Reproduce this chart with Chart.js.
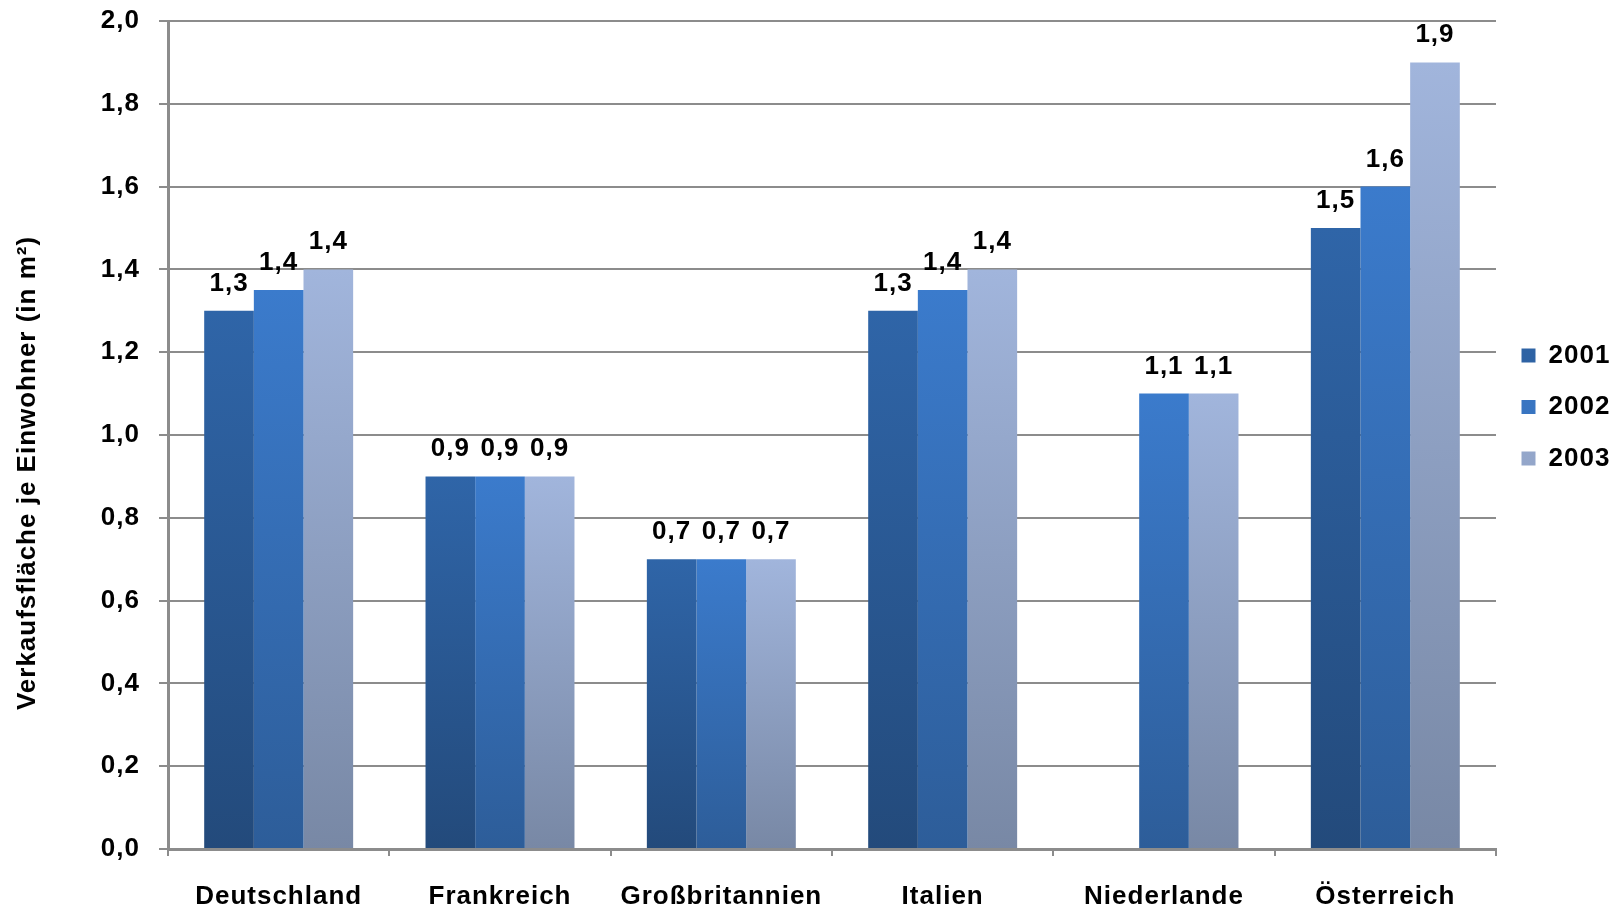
<!DOCTYPE html>
<html>
<head>
<meta charset="utf-8">
<title>Verkaufsfläche je Einwohner</title>
<script src="https://cdn.jsdelivr.net/npm/chart.js@4.4.1/dist/chart.umd.min.js"></script>
<style>
  html, body { margin: 0; padding: 0; background: #ffffff; }
  canvas { display: block; }
</style>
</head>
<body>
<canvas id="chart" width="1614" height="909"></canvas>
<script>
// Verkaufsfläche je Einwohner (in m²), 2001–2003
const countries = ['Deutschland', 'Frankreich', 'Großbritannien', 'Italien', 'Niederlande', 'Österreich'];
const years = ['2001', '2002', '2003'];
const values2001 = [1.3, 0.9, 0.7, 1.3, null, 1.5];
const values2002 = [1.35, 0.9, 0.7, 1.35, 1.1, 1.6];
const values2003 = [1.4, 0.9, 0.7, 1.4, 1.1, 1.9];
const yAxisTitle = 'Verkaufsfläche je Einwohner (in m²)';
const yMin = 0;
const yMax = 2;
const yStep = 0.2;

// gradient stops per series: [top, bottom], plus a flat colour for the legend box
const seriesColors = [
  { top: '#2f65a8', bottom: '#234a7b', flat: '#2b5992' },
  { top: '#3b7bcc', bottom: '#2d5d99', flat: '#346db4' },
  { top: '#a1b5dc', bottom: '#7888a5', flat: '#8d9fc2' }
];

const FONT = '"Liberation Sans", Arial, Helvetica, sans-serif';
const FONT_SIZE = 26;
const GRID = '#8c8c8c';
const fmt = v => Number(v).toFixed(1).replace('.', ',');

Chart.defaults.font.family = FONT;
Chart.defaults.color = '#000000';

// vertical gradient spanning each individual bar
function barFill(context) {
  const c = seriesColors[context.datasetIndex];
  if (context.type !== 'data') return c.flat;
  const chart = context.chart;
  const v = context.raw;
  if (v == null || !chart.chartArea || !chart.scales.y) return c.flat;
  const ys = chart.scales.y;
  const yTop = ys.getPixelForValue(v);
  const yBottom = ys.getPixelForValue(0);
  if (!isFinite(yTop) || !isFinite(yBottom) || yTop === yBottom) return c.flat;
  const g = chart.ctx.createLinearGradient(0, yTop, 0, yBottom);
  g.addColorStop(0, c.top);
  g.addColorStop(1, c.bottom);
  return g;
}

// slightly wider bold lettering
const letterSpacing = {
  id: 'letterSpacing',
  beforeUpdate(chart) { chart.ctx.letterSpacing = '1px'; },
  beforeDraw(chart) { chart.ctx.letterSpacing = '1px'; }
};

// value printed above every bar
const valueLabels = {
  id: 'valueLabels',
  afterDatasetsDraw(chart) {
    const c = chart.ctx;
    c.save();
    c.font = 'bold ' + FONT_SIZE + 'px ' + FONT;
    c.fillStyle = '#000000';
    c.textAlign = 'center';
    c.textBaseline = 'alphabetic';
    chart.data.datasets.forEach((ds, i) => {
      const meta = chart.getDatasetMeta(i);
      meta.data.forEach((bar, j) => {
        const v = ds.data[j];
        if (v == null) return;
        c.fillText(fmt(v), bar.x, bar.y - 20);
      });
    });
    c.restore();
  }
};

// rotated title of the value axis
const axisTitle = {
  id: 'axisTitle',
  afterDraw(chart, args, opts) {
    const c = chart.ctx;
    c.save();
    c.translate(opts.x, opts.y);
    c.rotate(-Math.PI / 2);
    c.font = 'bold ' + FONT_SIZE + 'px ' + FONT;
    c.fillStyle = '#000000';
    c.textAlign = 'center';
    c.textBaseline = 'middle';
    c.fillText(opts.text, 0, 0);
    c.restore();
  }
};

const datasets = [values2001, values2002, values2003].map((vals, i) => ({
  label: years[i],
  data: vals,
  backgroundColor: barFill,
  borderWidth: 0,
  categoryPercentage: 0.673,
  barPercentage: 1.0
}));

const labelFont = { family: FONT, size: FONT_SIZE, weight: 'bold' };

new Chart(document.getElementById('chart'), {
  type: 'bar',
  data: { labels: countries, datasets },
  plugins: [letterSpacing, valueLabels, axisTitle],
  options: {
    responsive: false,
    animation: false,
    devicePixelRatio: 1,
    layout: { padding: { top: 21, right: 0, bottom: 0, left: 0 } },
    plugins: {
      tooltip: { enabled: false },
      axisTitle: { text: yAxisTitle, x: 28, y: 473 },
      legend: {
        position: 'right',
        align: 'start',
        maxWidth: 118,
        title: { display: true, text: '', padding: { top: 286, bottom: 0 }, font: { size: 10, lineHeight: 1 } },
        labels: {
          boxWidth: 14,
          boxHeight: 14,
          padding: 25.5,
          color: '#000000',
          font: labelFont
        }
      }
    },
    scales: {
      x: {
        grid: { display: true, drawOnChartArea: false, drawTicks: true, tickLength: 7, lineWidth: 2, color: GRID, offset: true },
        border: { display: true, color: GRID, width: 3 },
        ticks: { color: '#000000', font: labelFont, padding: 25, maxRotation: 0, autoSkip: false },
        afterFit(scale) { scale.height = 60; }
      },
      y: {
        min: yMin,
        max: yMax,
        ticks: {
          stepSize: yStep,
          color: '#000000',
          font: labelFont,
          padding: 19,
          callback: v => fmt(v)
        },
        grid: { color: GRID, lineWidth: 2, tickLength: 9, drawTicks: true },
        border: { display: true, color: GRID, width: 3 },
        afterFit(scale) {
          scale.width = 168;
          scale.paddingTop = 0;
          scale.paddingBottom = 0;
        }
      }
    }
  }
});
</script>
</body>
</html>
